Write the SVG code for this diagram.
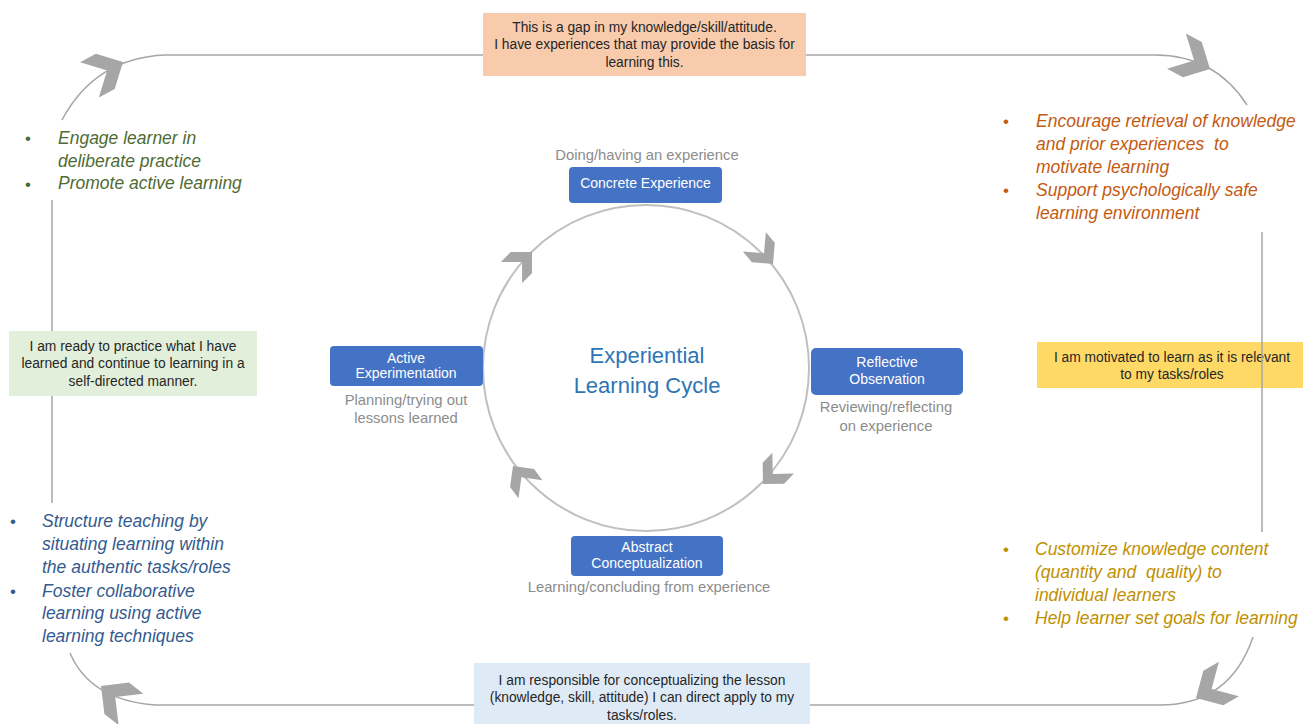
<svg xmlns="http://www.w3.org/2000/svg" xmlns:xlink="http://www.w3.org/1999/xlink" width="1303" height="724" viewBox="0 0 1303 724">
<style>
text{font-family:"Liberation Sans",Arial,sans-serif}
.box{font-size:13.8px;fill:#262626;text-anchor:middle}
.node{font-size:14px;fill:#ffffff;text-anchor:middle}
.sub{font-size:14.8px;fill:#8c8c8c;text-anchor:middle}
.bul{font-size:17.5px;font-style:italic}
.dot{font-size:17px}
.line{fill:none;stroke:#a6a6a6;stroke-width:1.5}
.ring{fill:none;stroke:#bfbfbf;stroke-width:2}
.chev{fill:#a6a6a6}
.blue{fill:#4472c4}
</style>
<defs>
<polygon id="chevS" points="0,0 -15,-15 -29,-15 -14,0 -29,15 -15,15"/>
<polygon id="chevL" points="0,0 -20,-20 -38,-20 -18,0 -38,20 -20,20"/>
</defs>
<rect width="1303" height="724" fill="#ffffff"/>

<g id="node-motivated">
<rect x="1037" y="342" width="266" height="46" fill="#ffd966"/>
<text class="box" x="1172" y="362">I am motivated to learn as it is relevant</text>
<text class="box" x="1172" y="379">to my tasks/roles</text>
</g>

<g id="connectors">
<circle class="ring" cx="646" cy="368" r="163"/>
<path class="line" d="M165 55 L1155 55"/>
<path class="line" d="M62 120 Q95 58 165 55"/>
<path class="line" d="M1155 55 Q1215 55 1247 105"/>
<path class="line" d="M1262 232 L1262 532"/>
<path class="line" d="M1253 637 Q1230 705 1160 705"/>
<path class="line" d="M155 705 L1160 705"/>
<path class="line" d="M70 653 Q90 700 155 705"/>
<path class="line" d="M52 200 L52 503"/>
<g class="chev">
<use xlink:href="#chevS" transform="translate(773,264) rotate(50)"/>
<use xlink:href="#chevS" transform="translate(763,484) rotate(134)"/>
<use xlink:href="#chevS" transform="translate(513,466) rotate(233)"/>
<use xlink:href="#chevS" transform="translate(532,252) rotate(-45)"/>
<use xlink:href="#chevL" transform="translate(123,62) rotate(-28)"/>
<use xlink:href="#chevL" transform="translate(1210,69) rotate(28)"/>
<use xlink:href="#chevL" transform="translate(1196,698) rotate(150)"/>
<use xlink:href="#chevL" transform="translate(101,686) rotate(218)"/>
</g>
</g>

<g id="node-gap">
<rect x="483" y="13" width="323" height="63" fill="#f8cbad"/>
<text class="box" x="644.5" y="32">This is a gap in my knowledge/skill/attitude.</text>
<text class="box" x="644.5" y="49">I have experiences that may provide the basis for</text>
<text class="box" x="644.5" y="67">learning this.</text>
</g>

<g id="node-ready">
<rect x="9" y="331" width="248" height="65" fill="#e2efda"/>
<text class="box" x="133" y="351">I am ready to practice what I have</text>
<text class="box" x="133" y="368">learned and continue to learning in a</text>
<text class="box" x="133" y="386">self-directed manner.</text>
</g>

<g id="node-responsible">
<rect x="474" y="663" width="336" height="61" fill="#deebf7"/>
<text class="box" x="642" y="685">I am responsible for conceptualizing the lesson</text>
<text class="box" x="642" y="702">(knowledge, skill, attitude) I can direct apply to my</text>
<text class="box" x="642" y="720">tasks/roles.</text>
</g>

<g id="node-title">
<text x="647" y="363" font-size="22" fill="#2e75b6" text-anchor="middle">Experiential</text>
<text x="647" y="393" font-size="22" fill="#2e75b6" text-anchor="middle">Learning Cycle</text>
</g>

<g id="node-concrete">
<text class="sub" x="647" y="160">Doing/having an experience</text>
<rect class="blue" x="569" y="167" width="153" height="36" rx="4"/>
<text class="node" x="645.5" y="188">Concrete Experience</text>
</g>

<g id="node-reflective">
<rect class="blue" x="811" y="348" width="152" height="47" rx="5"/>
<text class="node" x="887" y="367">Reflective</text>
<text class="node" x="887" y="384">Observation</text>
<text class="sub" x="886" y="412">Reviewing/reflecting</text>
<text class="sub" x="886" y="431">on experience</text>
</g>

<g id="node-abstract">
<rect class="blue" x="571" y="536" width="152" height="40" rx="4"/>
<text class="node" x="647" y="552">Abstract</text>
<text class="node" x="647" y="568">Conceptualization</text>
<text class="sub" x="649" y="592">Learning/concluding from experience</text>
</g>

<g id="node-active">
<rect class="blue" x="330" y="346" width="153" height="40" rx="4"/>
<text class="node" x="406" y="363">Active</text>
<text class="node" x="406" y="378">Experimentation</text>
<text class="sub" x="406" y="405">Planning/trying out</text>
<text class="sub" x="406" y="423">lessons learned</text>
</g>

<g id="node-practice" fill="#4f6b34">
<text class="dot" x="25" y="144">•</text>
<text class="bul" x="58" y="144">Engage learner in</text>
<text class="bul" x="58" y="167">deliberate practice</text>
<text class="dot" x="25" y="190">•</text>
<text class="bul" x="58" y="189">Promote active learning</text>
</g>

<g id="node-retrieval" fill="#c55a11">
<text class="dot" x="1003" y="127">•</text>
<text class="bul" x="1036" y="127">Encourage retrieval of knowledge</text>
<text class="bul" x="1036" y="150">and prior experiences &#160;to</text>
<text class="bul" x="1036" y="173">motivate learning</text>
<text class="dot" x="1003" y="196">•</text>
<text class="bul" x="1036" y="196">Support psychologically safe</text>
<text class="bul" x="1036" y="219">learning environment</text>
</g>

<g id="node-customize" fill="#bf9000">
<text class="dot" x="1003" y="555">•</text>
<text class="bul" x="1035" y="555">Customize knowledge content</text>
<text class="bul" x="1035" y="578">(quantity and &#160;quality) to</text>
<text class="bul" x="1035" y="601">individual learners</text>
<text class="dot" x="1003" y="624">•</text>
<text class="bul" x="1035" y="624">Help learner set goals for learning</text>
</g>

<g id="node-structure" fill="#335b8f">
<text class="dot" x="10" y="527">•</text>
<text class="bul" x="42" y="527">Structure teaching by</text>
<text class="bul" x="42" y="550">situating learning within</text>
<text class="bul" x="42" y="573">the authentic tasks/roles</text>
<text class="dot" x="10" y="597">•</text>
<text class="bul" x="42" y="597">Foster collaborative</text>
<text class="bul" x="42" y="619">learning using active</text>
<text class="bul" x="42" y="642">learning techniques</text>
</g>
</svg>
